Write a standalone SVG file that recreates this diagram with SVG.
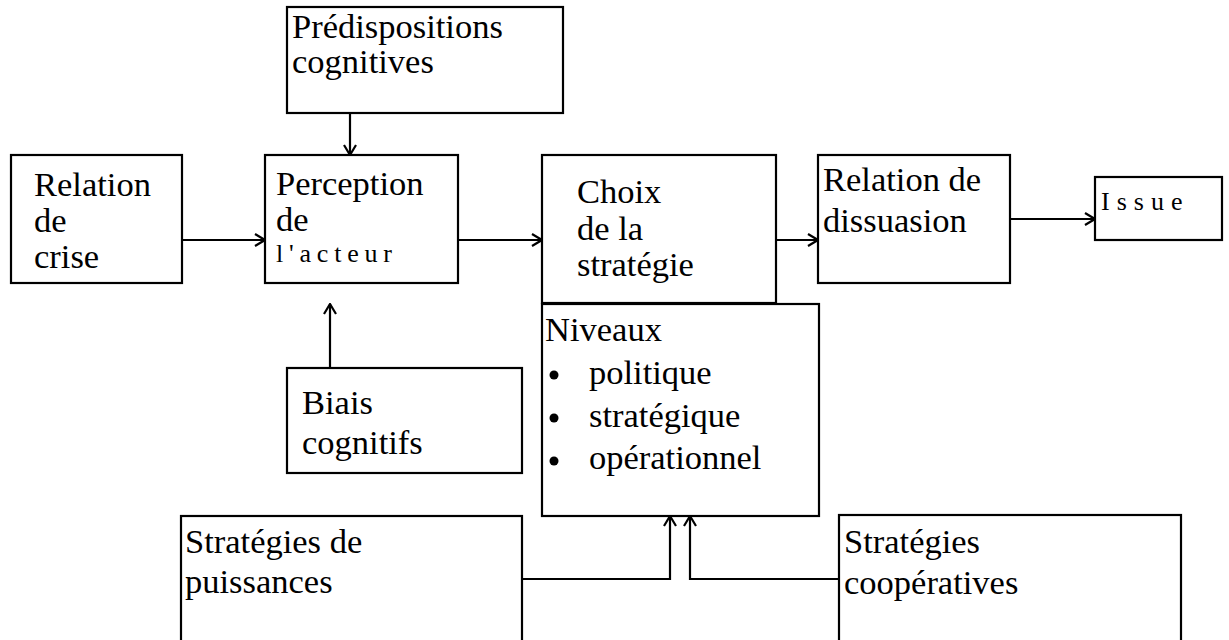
<svg xmlns="http://www.w3.org/2000/svg" width="1229" height="640" viewBox="0 0 1229 640">
<defs>
<style>
.box{fill:#fff;stroke:#000;stroke-width:2.2}
text{font-family:'Liberation Serif','Times New Roman',Times,serif;fill:#000}
.t{font-size:34.5px}
.s{font-size:26px;letter-spacing:5.8px}
.c{fill:none;stroke:#000;stroke-width:2.2}
</style>
<marker id="ah" viewBox="0 0 12 14" refX="11" refY="7" markerWidth="12" markerHeight="14" markerUnits="userSpaceOnUse" orient="auto">
<path d="M1,1 L11,7 L1,13" fill="none" stroke="#000" stroke-width="2.2"/>
</marker>
</defs>
<rect width="1229" height="640" fill="#fff"/>

<g id="predispositions">
<rect class="box" x="287" y="7" width="276" height="106"/>
<text class="t" x="292" y="38">Prédispositions</text>
<text class="t" x="292" y="73">cognitives</text>
</g>

<g id="relation-crise">
<rect class="box" x="11" y="155" width="171" height="128"/>
<text class="t" x="34" y="196">Relation</text>
<text class="t" x="34" y="232">de</text>
<text class="t" x="34" y="268">crise</text>
</g>

<g id="perception">
<rect class="box" x="265" y="155" width="193" height="128"/>
<text class="t" x="276" y="195">Perception</text>
<text class="t" x="276" y="231">de</text>
<text class="s" x="276" y="262">l'acteur</text>
</g>

<g id="choix">
<rect class="box" x="542" y="155" width="234" height="148"/>
<text class="t" x="577" y="203">Choix</text>
<text class="t" x="577" y="240">de la</text>
<text class="t" x="577" y="276">stratégie</text>
</g>

<g id="niveaux">
<rect class="box" x="542" y="304" width="277" height="212"/>
<text class="t" x="545" y="341">Niveaux</text>
<circle cx="554" cy="375" r="4.5"/>
<circle cx="554" cy="418" r="4.5"/>
<circle cx="554" cy="461" r="4.5"/>
<text class="t" x="589" y="384">politique</text>
<text class="t" x="589" y="427">stratégique</text>
<text class="t" x="589" y="469">opérationnel</text>
</g>

<g id="dissuasion">
<rect class="box" x="818" y="155" width="192" height="128"/>
<text class="t" x="823" y="191">Relation de</text>
<text class="t" x="823" y="232">dissuasion</text>
</g>

<g id="issue">
<rect class="box" x="1095" y="177" width="127" height="63"/>
<text class="s" x="1101" y="210" style="letter-spacing:7px">Issue</text>
</g>

<g id="biais">
<rect class="box" x="287" y="368" width="235" height="105"/>
<text class="t" x="302" y="414">Biais</text>
<text class="t" x="302" y="454">cognitifs</text>
</g>

<g id="puissances">
<rect class="box" x="181" y="516" width="341" height="140"/>
<text class="t" x="185" y="553">Stratégies de</text>
<text class="t" x="185" y="593">puissances</text>
</g>

<g id="cooperatives">
<rect class="box" x="839" y="515" width="342" height="140"/>
<text class="t" x="844" y="553">Stratégies</text>
<text class="t" x="844" y="594">coopératives</text>
</g>

<g id="connectors">
<line class="c" x1="350" y1="113" x2="350" y2="155" marker-end="url(#ah)"/>
<line class="c" x1="182" y1="240" x2="265" y2="240" marker-end="url(#ah)"/>
<line class="c" x1="458" y1="240" x2="542" y2="240" marker-end="url(#ah)"/>
<line class="c" x1="776" y1="240" x2="818" y2="240" marker-end="url(#ah)"/>
<line class="c" x1="1010" y1="219" x2="1095" y2="219" marker-end="url(#ah)"/>
<line class="c" x1="330" y1="368" x2="330" y2="304" marker-end="url(#ah)"/>
<polyline class="c" points="522,579 670,579 670,516" marker-end="url(#ah)"/>
<polyline class="c" points="839,579 690,579 690,516" marker-end="url(#ah)"/>
</g>
</svg>
